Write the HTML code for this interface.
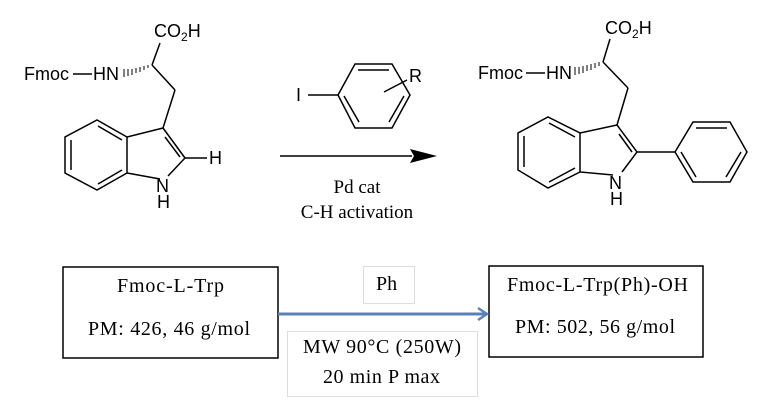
<!DOCTYPE html>
<html><head><meta charset="utf-8"><style>
html,body{margin:0;padding:0;background:#fff;}
svg{display:block}
.s{font-family:"Liberation Sans",sans-serif;font-size:18px;fill:#000}
.r{font-family:"Liberation Serif",serif;fill:#000}
</style></head><body>
<svg width="764" height="405" viewBox="0 0 764 405" xmlns="http://www.w3.org/2000/svg">
<g stroke="#000" stroke-width="1.5" fill="none">
<line x1="152" y1="65" x2="160" y2="43"/>
<line x1="152" y1="65" x2="175" y2="90"/>
<line x1="175" y1="90" x2="163" y2="128"/>
<polyline points="163,128 185,158 168,176"/>
<line x1="163" y1="128" x2="127" y2="137"/>
<line x1="165" y1="137" x2="180" y2="157"/>
<polyline points="160,179 127,173 127,137 97,120 65,137 65,173 97,190 127,173"/>
<line x1="71" y1="140" x2="71" y2="170"/>
<line x1="98" y1="126" x2="122" y2="140"/>
<line x1="98" y1="184" x2="122" y2="170"/>
<line x1="185" y1="158" x2="207" y2="158"/>
<line x1="73" y1="74" x2="92" y2="74"/>
<polygon points="355,64 392,64 410,95 392,128 355,128 338,95"/>
<line x1="358" y1="70" x2="389" y2="70"/>
<line x1="404" y1="96" x2="389" y2="122"/>
<line x1="344" y1="96" x2="359" y2="122"/>
<line x1="308" y1="95" x2="338" y2="95"/>
<line x1="384" y1="92" x2="407" y2="80"/>
<line x1="280" y1="156" x2="412" y2="156"/>
<line x1="603" y1="62" x2="610" y2="39"/>
<line x1="603" y1="62" x2="628" y2="88"/>
<line x1="628" y1="88" x2="617" y2="125"/>
<polyline points="617,125 637,152 622,172"/>
<line x1="617" y1="125" x2="580" y2="133"/>
<line x1="619" y1="134" x2="632" y2="152"/>
<polyline points="613,175 580,172 580,133 548,117 518,133 518,170 548,188 580,172"/>
<line x1="524" y1="136" x2="524" y2="167"/>
<line x1="549" y1="123" x2="575" y2="137"/>
<line x1="549" y1="182" x2="575" y2="168"/>
<line x1="637" y1="152" x2="675" y2="152"/>
<polygon points="675,152 693,122 730,122 747,152 730,182 693,182"/>
<line x1="696" y1="128" x2="727" y2="128"/>
<line x1="741" y1="152" x2="726" y2="177"/>
<line x1="681" y1="152" x2="696" y2="177"/>
<line x1="526" y1="73" x2="545" y2="73"/>
</g>
<g stroke="#000" stroke-width="1">
<line x1="124" y1="69" x2="124" y2="77"/><line x1="128" y1="69" x2="128" y2="76"/><line x1="132" y1="69" x2="132" y2="75"/><line x1="136" y1="68" x2="136" y2="73"/><line x1="140" y1="67" x2="140" y2="72"/><line x1="144" y1="66" x2="144" y2="70"/><line x1="148" y1="65" x2="148" y2="68"/>
<line x1="575" y1="67" x2="575" y2="75"/><line x1="579" y1="67" x2="579" y2="74"/><line x1="583" y1="66" x2="583" y2="73"/><line x1="587" y1="65" x2="587" y2="71"/><line x1="591" y1="64" x2="591" y2="70"/><line x1="595" y1="63" x2="595" y2="68"/><line x1="599" y1="62" x2="599" y2="66"/>
</g>
<polygon points="410,149 437,156 410,163 414,156" fill="#000"/>
<text class="s" x="154" y="37">CO<tspan style="font-size:12px" dy="4">2</tspan><tspan dy="-4">H</tspan></text>
<text class="s" x="24" y="80">Fmoc</text>
<text class="s" x="93" y="80">HN</text>
<text class="s" x="209" y="164">H</text>
<text class="s" x="156" y="192">N</text>
<text class="s" x="157" y="208">H</text>
<text class="s" x="296" y="101">I</text>
<text class="s" x="409" y="82">R</text>
<text class="s" x="605" y="34">CO<tspan style="font-size:12px" dy="4">2</tspan><tspan dy="-4">H</tspan></text>
<text class="s" x="478" y="79">Fmoc</text>
<text class="s" x="546" y="79">HN</text>
<text class="s" x="609" y="189">N</text>
<text class="s" x="610" y="205">H</text>
<text class="r" x="357" y="193" text-anchor="middle" style="font-size:19px">Pd cat</text>
<text class="r" x="357" y="218" text-anchor="middle" style="font-size:19px">C-H activation</text>
<rect x="63" y="267" width="215" height="91" fill="none" stroke="#000" stroke-width="1.5"/>
<rect x="489" y="266" width="214" height="91" fill="none" stroke="#000" stroke-width="1.5"/>
<rect x="363.5" y="266.5" width="51" height="37" fill="none" stroke="#ddd" stroke-width="1"/>
<rect x="287.5" y="331.5" width="190" height="65" fill="none" stroke="#ddd" stroke-width="1"/>
<line x1="278" y1="314" x2="486" y2="314" stroke="#5b82b8" stroke-width="3"/>
<polyline points="478,308 487,314 478,320" fill="none" stroke="#5b82b8" stroke-width="2.5"/>
<text class="r" x="117" y="292" style="font-size:20px" textLength="107" lengthAdjust="spacing">Fmoc-L-Trp</text>
<text class="r" x="88" y="335" style="font-size:20px" textLength="162" lengthAdjust="spacing">PM: 426, 46 g/mol</text>
<text class="r" x="376" y="290" style="font-size:20px">Ph</text>
<text class="r" x="507" y="291" style="font-size:20px" textLength="181" lengthAdjust="spacing">Fmoc-L-Trp(Ph)-OH</text>
<text class="r" x="515" y="333" style="font-size:20px" textLength="160" lengthAdjust="spacing">PM: 502, 56 g/mol</text>
<text class="r" x="303" y="353" style="font-size:20px" textLength="158" lengthAdjust="spacing">MW 90°C (250W)</text>
<text class="r" x="323" y="383" style="font-size:20px" textLength="117" lengthAdjust="spacing">20 min P max</text>
</svg>
</body></html>
